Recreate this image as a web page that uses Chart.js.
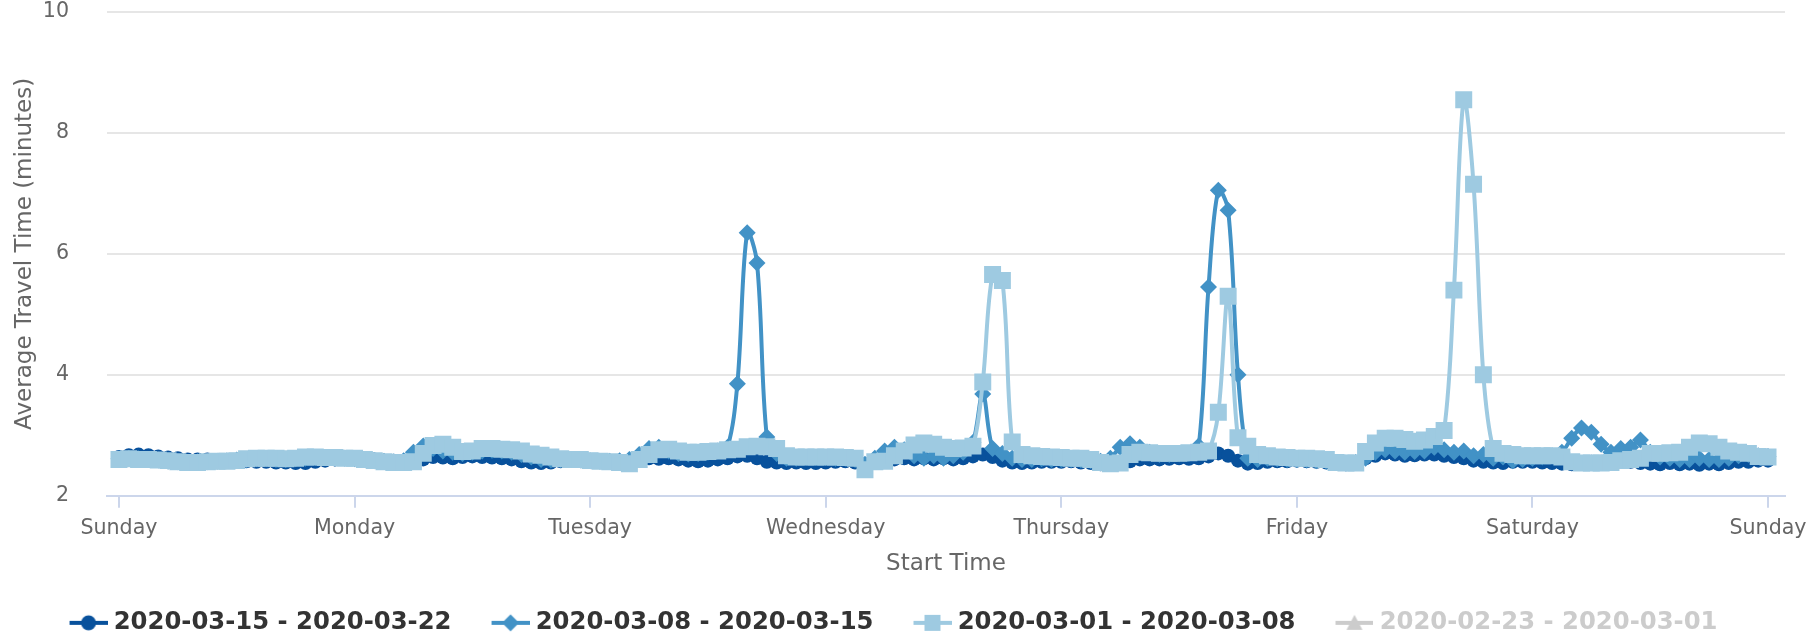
<!DOCTYPE html>
<html>
<head>
<meta charset="utf-8">
<script src="https://cdn.jsdelivr.net/npm/chart.js@4.4.1/dist/chart.umd.min.js"></script>
<style>
  html, body { margin: 0; padding: 0; background: #fff; }
  #grafico { display: block; }
</style>
</head>
<body>
<canvas id="grafico" width="1806" height="638"></canvas>
<script>
// ==========================================
// 1. DATOS (un valor por hora, domingo 00:00 -> domingo siguiente)
// ==========================================
const diasSemana = ['Sunday', 'Monday', 'Tuesday', 'Wednesday', 'Thursday', 'Friday', 'Saturday', 'Sunday'];
const nombresSeries = ['2020-03-15 - 2020-03-22', '2020-03-08 - 2020-03-15', '2020-03-01 - 2020-03-08', '2020-02-23 - 2020-03-01'];
const coloresSeries = ['#08519c', '#4292c6', '#9ecae1', '#c6dbef'];

const serie0315 = [
  2.64,2.67,2.68,2.67,2.65,2.63,2.62,2.60,2.60,2.60,2.59,2.58,2.58,2.57,2.56,2.56,2.55,2.55,2.54,2.54,2.56,2.58,2.60,2.62,
  2.63,2.62,2.60,2.58,2.57,2.57,2.58,2.60,2.64,2.63,2.62,2.64,2.65,2.64,2.63,2.62,2.60,2.57,2.55,2.54,2.55,2.57,2.58,2.58,
  2.57,2.57,2.56,2.56,2.58,2.60,2.62,2.61,2.62,2.60,2.58,2.57,2.58,2.60,2.62,2.65,2.66,2.62,2.56,2.55,2.54,2.55,2.54,2.54,
  2.55,2.56,2.57,2.55,2.52,2.54,2.57,2.60,2.62,2.60,2.62,2.60,2.62,2.60,2.62,2.65,2.68,2.64,2.58,2.55,2.54,2.55,2.56,2.56,
  2.56,2.57,2.55,2.54,2.52,2.52,2.54,2.57,2.60,2.60,2.60,2.61,2.62,2.61,2.62,2.65,2.70,2.66,2.58,2.53,2.54,2.56,2.57,2.57,
  2.58,2.57,2.56,2.55,2.53,2.52,2.55,2.62,2.66,2.70,2.68,2.66,2.67,2.68,2.68,2.66,2.64,2.62,2.58,2.56,2.55,2.54,2.56,2.56,
  2.56,2.55,2.54,2.53,2.52,2.55,2.56,2.56,2.57,2.57,2.56,2.54,2.53,2.52,2.54,2.52,2.53,2.51,2.53,2.52,2.54,2.56,2.56,2.58,2.58
];

const serie0308 = [
  2.61,2.62,2.61,2.60,2.59,2.57,2.56,2.55,2.56,2.56,2.57,2.58,2.59,2.60,2.61,2.61,2.60,2.60,2.61,2.62,2.63,2.63,2.62,2.62,
  2.61,2.60,2.58,2.57,2.56,2.58,2.72,2.82,2.78,2.74,2.72,2.70,2.72,2.74,2.75,2.74,2.72,2.68,2.64,2.60,2.59,2.60,2.60,2.59,
  2.58,2.57,2.57,2.58,2.60,2.68,2.78,2.80,2.74,2.70,2.69,2.70,2.72,2.74,2.80,3.85,6.35,5.85,2.97,2.70,2.62,2.62,2.63,2.63,
  2.63,2.62,2.62,2.60,2.52,2.62,2.74,2.80,2.76,2.66,2.62,2.66,2.62,2.66,2.72,2.88,3.68,2.78,2.70,2.62,2.60,2.60,2.61,2.60,
  2.60,2.60,2.59,2.58,2.57,2.62,2.80,2.86,2.80,2.72,2.68,2.68,2.69,2.70,2.82,5.45,7.05,6.72,4.00,2.62,2.60,2.62,2.61,2.60,
  2.60,2.59,2.58,2.57,2.55,2.54,2.55,2.62,2.72,2.76,2.74,2.72,2.73,2.74,2.80,2.76,2.72,2.74,2.66,2.68,2.62,2.64,2.58,2.60,
  2.62,2.64,2.66,2.72,2.95,3.12,3.05,2.85,2.72,2.78,2.80,2.92,2.72,2.64,2.62,2.60,2.60,2.62,2.60,2.60,2.62,2.66,2.68,2.66,2.65
];

const serie0301 = [
  2.60,2.61,2.60,2.60,2.59,2.58,2.56,2.55,2.55,2.56,2.57,2.57,2.58,2.61,2.62,2.62,2.62,2.61,2.62,2.64,2.64,2.63,2.63,2.62,
  2.62,2.60,2.58,2.56,2.55,2.55,2.56,2.70,2.83,2.85,2.80,2.73,2.74,2.78,2.78,2.77,2.76,2.74,2.69,2.67,2.64,2.61,2.60,2.60,
  2.58,2.57,2.56,2.55,2.53,2.60,2.68,2.76,2.77,2.74,2.72,2.72,2.73,2.74,2.76,2.77,2.81,2.82,2.81,2.78,2.66,2.64,2.64,2.64,
  2.64,2.64,2.63,2.62,2.43,2.56,2.57,2.66,2.74,2.84,2.87,2.85,2.80,2.78,2.79,2.82,3.88,5.66,5.56,2.89,2.68,2.66,2.65,2.64,
  2.63,2.62,2.62,2.60,2.55,2.53,2.54,2.68,2.72,2.71,2.70,2.70,2.70,2.71,2.72,2.74,3.38,5.30,2.96,2.82,2.68,2.66,2.64,2.63,
  2.62,2.62,2.61,2.60,2.55,2.54,2.54,2.73,2.87,2.95,2.95,2.93,2.90,2.92,2.98,3.08,5.40,8.55,7.15,4.00,2.78,2.70,2.68,2.66,
  2.66,2.66,2.66,2.64,2.56,2.54,2.54,2.54,2.55,2.58,2.60,2.62,2.70,2.70,2.71,2.72,2.80,2.87,2.86,2.80,2.74,2.72,2.70,2.65,2.64
];

// serie oculta en la leyenda (desactivada en el original, sin valores visibles)
const serie0223 = [];

const horas = serie0315.map((_, i) => i);

// ==========================================
// 2. SIMBOLOS DE LA LEYENDA (linea + marcador)
// ==========================================
function crearSimbolo(color, estilo) {
  const c = document.createElement('canvas');
  c.width = 84; c.height = 24;
  const ctx = c.getContext('2d');
  const cx = 65, cy = 12;
  ctx.strokeStyle = color;
  ctx.fillStyle = color;
  ctx.lineWidth = 4;
  ctx.beginPath(); ctx.moveTo(46, cy); ctx.lineTo(84, cy); ctx.stroke();
  ctx.beginPath();
  if (estilo === 'circle') ctx.arc(cx, cy, 7.5, 0, Math.PI * 2);
  else if (estilo === 'rectRot') { ctx.moveTo(cx - 8.5, cy); ctx.lineTo(cx, cy - 8.5); ctx.lineTo(cx + 8.5, cy); ctx.lineTo(cx, cy + 8.5); }
  else if (estilo === 'rect') ctx.rect(cx - 8, cy - 8, 16, 16);
  else { ctx.moveTo(cx, cy - 8); ctx.lineTo(cx + 8, cy + 7); ctx.lineTo(cx - 8, cy + 7); }
  ctx.closePath();
  ctx.fill();
  return c;
}

const estilosPuntos = ['circle', 'rectRot', 'rect', 'triangle'];
const radiosPuntos = [7, 8.5, 12, 8];
const simbolos = [
  crearSimbolo(coloresSeries[0], 'circle'),
  crearSimbolo(coloresSeries[1], 'rectRot'),
  crearSimbolo(coloresSeries[2], 'rect'),
  crearSimbolo('#cccccc', 'triangle')
];

// ==========================================
// 3. GRAFICO
// ==========================================
Chart.defaults.font.family = '"DejaVu Sans", sans-serif';

const valoresSeries = [serie0315, serie0308, serie0301, serie0223];

const datasets = valoresSeries.map((vals, i) => ({
  label: nombresSeries[i],
  data: vals,
  borderColor: coloresSeries[i],
  backgroundColor: coloresSeries[i],
  borderWidth: 4,
  tension: 0.35,
  pointStyle: estilosPuntos[i],
  pointRadius: radiosPuntos[i],
  pointBorderWidth: 0,
  pointBackgroundColor: coloresSeries[i],
  hidden: i === 3,
  order: 4 - i
}));

new Chart(document.getElementById('grafico'), {
  type: 'line',
  data: { labels: horas, datasets },
  options: {
    responsive: false,
    animation: false,
    layout: { padding: { top: 0, right: 21, bottom: -7, left: -38 } },
    plugins: {
      tooltip: { enabled: false },
      legend: {
        position: 'bottom',
        onClick: null,
        labels: {
          usePointStyle: true,
          pointStyleWidth: 72,
          padding: 0,
          color: '#333333',
          font: { size: 24.3, weight: 'bold' },
          generateLabels: (chart) => chart.data.datasets.map((ds, i) => ({
            text: ds.label,
            pointStyle: simbolos[i],
            fontColor: i === 3 ? '#cccccc' : '#333333',
            fillStyle: 'transparent',
            strokeStyle: 'transparent',
            lineWidth: 0,
            hidden: false,
            datasetIndex: i
          }))
        }
      }
    },
    scales: {
      x: {
        type: 'linear',
        min: -1.22,
        max: 169.73,
        afterBuildTicks: (s) => { s.ticks = diasSemana.map((_, i) => ({ value: i * 24 })); },
        afterFit: (s) => { s.height = 115; s.paddingLeft = 0; s.paddingRight = 0; },
        ticks: {
          autoSkip: false,
          maxRotation: 0,
          padding: 8.5,
          color: '#666666',
          font: { size: 20.6 },
          callback: (v) => diasSemana[Math.round(v / 24)]
        },
        grid: {
          drawOnChartArea: false,
          drawTicks: true,
          tickLength: 12,
          color: '#ccd6eb',
          lineWidth: 2
        },
        border: { display: true, color: '#ccd6eb', width: 2 },
        title: {
          display: true,
          text: 'Start Time',
          color: '#666666',
          font: { size: 23 },
          padding: { top: 0, bottom: 33 }
        }
      },
      y: {
        min: 2,
        max: 10,
        afterFit: (s) => { s.width = 145; s.paddingTop = 11.5; s.paddingBottom = 0; },
        ticks: { stepSize: 2, padding: 38, color: '#666666', font: { size: 20.6 } },
        grid: { color: '#e6e6e6', lineWidth: 2, drawTicks: false },
        border: { display: false },
        title: {
          display: true,
          text: 'Average Travel Time (minutes)',
          color: '#666666',
          font: { size: 23 },
          padding: { top: 49, bottom: 0 }
        }
      }
    }
  }
});
</script>
</body>
</html>
